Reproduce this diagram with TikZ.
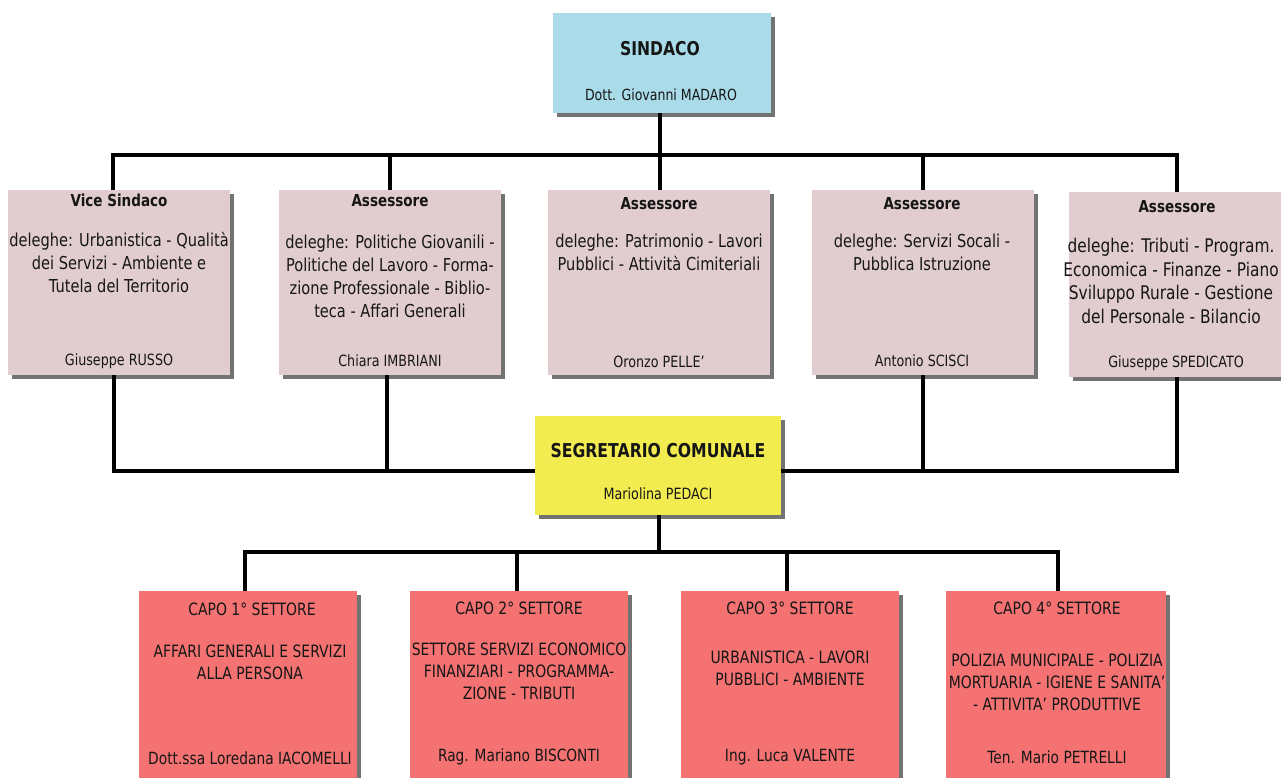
\documentclass[tikz,border=0pt]{standalone}
\usepackage{fontspec}
\setmainfont{DejaVu Sans}[FakeStretch=0.82]
\usetikzlibrary{shadows}
\definecolor{sindblue}{HTML}{A9DCE8}
\definecolor{asspink}{HTML}{E1CDCF}
\definecolor{secyellow}{HTML}{F3EC50}
\definecolor{setred}{HTML}{F47272}
\definecolor{txtdark}{HTML}{161616}
\tikzset{
  orgbox/.style={draw=none, inner sep=0pt, anchor=north west,
    drop shadow={shadow xshift=4pt, shadow yshift=-4pt, fill=black, opacity=0.55}},
  sindbox/.style={orgbox, fill=sindblue},
  assbox/.style={orgbox, fill=asspink, minimum width=222pt, minimum height=185pt},
  secbox/.style={orgbox, fill=secyellow},
  setbox/.style={orgbox, fill=setred, minimum width=218pt, minimum height=195pt},
  conn/.style={line width=3.6pt, black},
  ttl/.style={text=txtdark, font=\bfseries\fontsize{16.5}{20}\selectfont},
  body/.style={text=txtdark, align=center, font=\fontsize{17.8}{23}\selectfont},
  nme/.style={text=txtdark, font=\fontsize{15.5}{18}\selectfont},
  sttl/.style={text=txtdark, font=\fontsize{17}{20}\selectfont},
  sbody/.style={text=txtdark, align=center, font=\fontsize{17}{22}\selectfont},
  snme/.style={text=txtdark, font=\fontsize{16.8}{20}\selectfont},
}
\begin{document}
\begin{tikzpicture}[x=1pt,y=-1pt]
\useasboundingbox (0,0) rectangle (1281,777);
\clip (0,0) rectangle (1281,777);
\fill[white] (0,0) rectangle (1281,777);
\coordinate (bus) at (0,155);
\coordinate (lbus) at (0,471);
\coordinate (sbus) at (0,552);

\node[sindbox, minimum width=218pt, minimum height=100pt] (sind) at (553,13) {};
\node[assbox] (a1) at (8,190) {};
\node[assbox] (a2) at (279,190) {};
\node[assbox] (a3) at (548,190) {};
\node[assbox] (a4) at (812,190) {};
\node[assbox, minimum width=216pt] (a5) at (1069,192) {};
\node[secbox, minimum width=246pt, minimum height=99pt] (sec) at (535,416) {};
\node[setbox] (s1) at (139,591) {};
\node[setbox] (s2) at (410,591) {};
\node[setbox] (s3) at (681,591) {};
\node[setbox, minimum width=220pt] (s4) at (946,591) {};

\draw[conn] ([xshift=-2pt]sind.south) -- ([xshift=-2pt]sind.south |- a3.north);
\draw[conn] ([xshift=-6pt]a1.north) -- ([xshift=-6pt]a1.north |- bus) -- (a5.north |- bus) -- (a5.north);
\draw[conn] (a2.north) -- (a2.north |- bus);
\draw[conn] (a4.north) -- (a4.north |- bus);

\draw[conn] ([xshift=-5pt]a1.south) -- ([xshift=-5pt]a1.south |- lbus) -- (sec.west |- lbus);
\draw[conn] ([xshift=-3pt]a2.south) -- ([xshift=-3pt]a2.south |- lbus);
\draw[conn] (a5.south) -- (a5.south |- lbus) -- (sec.east |- lbus);
\draw[conn] (a4.south) -- (a4.south |- lbus);

\draw[conn] ([xshift=1pt]sec.south) -- ([xshift=1pt]sec.south |- sbus);
\draw[conn] ([xshift=-3pt]s1.north) -- ([xshift=-3pt]s1.north |- sbus) -- ([xshift=2pt]s4.north |- sbus) -- ([xshift=2pt]s4.north);
\draw[conn] ([xshift=-2pt]s2.north) -- ([xshift=-2pt]s2.north |- sbus);
\draw[conn] ([xshift=-3pt]s3.north) -- ([xshift=-3pt]s3.north |- sbus);

% Sindaco
\node[text=txtdark, font=\bfseries\fontsize{19}{22}\selectfont] (sindt) at (660,49) {SINDACO};
\node[nme, font=\fontsize{15.3}{18}\selectfont] (sindn) at (661,95) {Dott. Giovanni MADARO};

% Assessori
\node[ttl] (a1t) at (119,200) {Vice Sindaco};
\node[body] (a1b) at (119,263) {deleghe: Urbanistica - Qualità\\dei Servizi - Ambiente e\\Tutela del Territorio};
\node[nme] (a1n) at (119,361) {Giuseppe RUSSO};

\node[ttl] (a2t) at (390,201) {Assessore};
\node[body] (a2b) at (390,276) {deleghe: Politiche Giovanili -\\Politiche del Lavoro - Forma-\\zione Professionale - Biblio-\\teca - Affari Generali};
\node[nme] (a2n) at (390,361) {Chiara IMBRIANI};

\node[ttl] (a3t) at (659,204) {Assessore};
\node[body] (a3b) at (659,252) {deleghe: Patrimonio - Lavori\\Pubblici - Attività Cimiteriali};
\node[nme] (a3n) at (659,362) {Oronzo PELLE’};

\node[ttl] (a4t) at (922,204) {Assessore};
\node[body] (a4b) at (922,252) {deleghe: Servizi Socali -\\Pubblica Istruzione};
\node[nme] (a4n) at (922,361) {Antonio SCISCI};

\node[ttl] (a5t) at (1177,207) {Assessore};
\node[body, font=\fontsize{18.8}{23.5}\selectfont] (a5b) at (1171,281) {deleghe: Tributi - Program.\\Economica - Finanze - Piano\\Sviluppo Rurale - Gestione\\del Personale - Bilancio};
\node[nme] (a5n) at (1176,363) {Giuseppe SPEDICATO};

% Segretario
\node[text=txtdark, font=\bfseries\fontsize{19.1}{24}\selectfont] (sect) at (658,451) {SEGRETARIO COMUNALE};
\node[nme] (secn) at (658,494) {Mariolina PEDACI};

% Settori
\node[sttl] (s1t) at (252,609) {CAPO 1° SETTORE};
\node[sbody] (s1b) at (250,662) {AFFARI GENERALI E SERVIZI\\ALLA PERSONA};
\node[snme] (s1n) at (250,758) {Dott.ssa Loredana IACOMELLI};

\node[sttl] (s2t) at (519,608) {CAPO 2° SETTORE};
\node[sbody] (s2b) at (519,671) {SETTORE SERVIZI ECONOMICO\\FINANZIARI - PROGRAMMA-\\ZIONE - TRIBUTI};
\node[snme] (s2n) at (519,757) {Rag. Mariano BISCONTI};

\node[sttl] (s3t) at (790,608) {CAPO 3° SETTORE};
\node[sbody] (s3b) at (790,668) {URBANISTICA - LAVORI\\PUBBLICI - AMBIENTE};
\node[snme] (s3n) at (790,757) {Ing. Luca VALENTE};

\node[sttl] (s4t) at (1057,608) {CAPO 4° SETTORE};
\node[sbody] (s4b) at (1057,682) {POLIZIA MUNICIPALE - POLIZIA\\MORTUARIA - IGIENE E SANITA’\\- ATTIVITA’ PRODUTTIVE};
\node[snme] (s4n) at (1057,757) {Ten. Mario PETRELLI};
\end{tikzpicture}
\end{document}
